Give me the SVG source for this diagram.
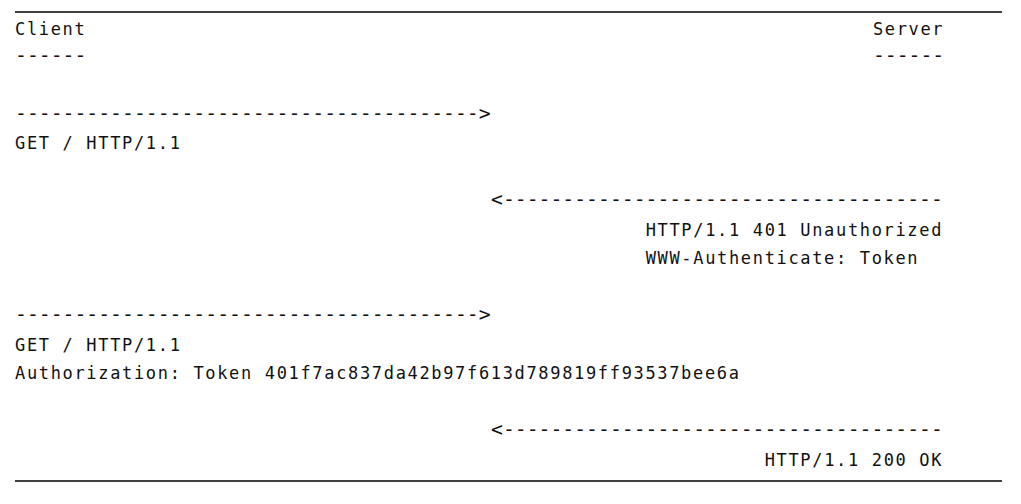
<svg xmlns="http://www.w3.org/2000/svg" width="1021" height="504" viewBox="0 0 1021 504">
<style>
.t{font-family:"DejaVu Sans Mono","Liberation Mono",monospace;font-size:17px;letter-spacing:1.66px;fill:#111;white-space:pre}
.d{font-family:"DejaVu Sans Mono","Liberation Mono",monospace;font-size:19.76px;fill:#111;white-space:pre}
.rule{stroke:#000;stroke-width:1.5}
</style>
<rect width="1021" height="504" fill="#fff"/>
<line class="rule" x1="15" y1="12" x2="1002" y2="12"/>
<line class="rule" x1="15" y1="481" x2="1002" y2="481"/>
<g id="client-header">
<text class="t" x="15" y="34.5">Client</text>
<text class="d" x="15" y="62">------</text>
</g>
<g id="server-header">
<text class="t" x="872.9" y="34.5">Server</text>
<text class="d" x="872.9" y="62">------</text>
</g>
<g id="connectors">
<text class="d" x="15" y="119.7">---------------------------------------&gt;</text>
<text class="d" x="491" y="205.9">&lt;-------------------------------------</text>
<text class="d" x="15" y="320.8">---------------------------------------&gt;</text>
<text class="d" x="491" y="435.7">&lt;-------------------------------------</text>
</g>
<g id="request1">
<text class="t" x="15" y="149.4">GET / HTTP/1.1</text>
</g>
<g id="response1">
<text class="t" x="645.7" y="235.6">HTTP/1.1 401 Unauthorized</text>
<text class="t" x="645.7" y="264.3">WWW-Authenticate: Token</text>
</g>
<g id="request2">
<text class="t" x="15" y="350.5">GET / HTTP/1.1</text>
<text class="t" x="15" y="379.3">Authorization: Token 401f7ac837da42b97f613d789819ff93537bee6a</text>
</g>
<g id="response2">
<text class="t" x="764.7" y="465.5">HTTP/1.1 200 OK</text>
</g>
</svg>
